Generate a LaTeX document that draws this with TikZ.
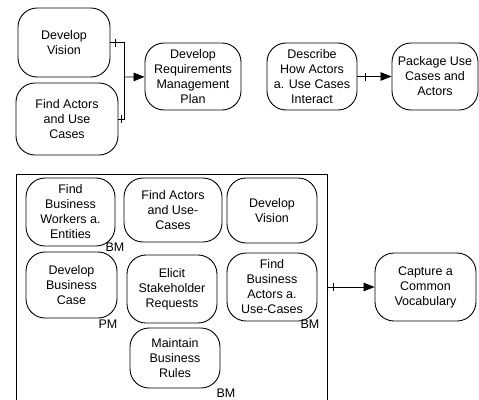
\documentclass[tikz,border=0pt]{standalone}
\usepackage{fontspec}
\setmainfont{Liberation Sans}
\usetikzlibrary{arrows.meta}
\begin{document}
\begin{tikzpicture}[x=1pt,y=-1pt,
  activity/.style={draw, line width=0.9pt, rounded corners=19pt, inner sep=0pt,
    align=center, font=\fontsize{12.5}{15}\selectfont},
  tag/.style={inner sep=0pt, font=\fontsize{12.5}{15}\selectfont},
  flow/.style={line width=0.8pt, -{Triangle[length=11pt,width=8.5pt]}},
  link/.style={line width=0.8pt},
  tick/.style={line width=0.8pt}]
\clip (0,0) rectangle (479,399);
\fill[white] (0,0) rectangle (479,399);

% upper workflow
\node[activity, minimum width=92pt, minimum height=69pt] (dv) at (64,42.5) {Develop\\Vision};
\node[activity, minimum width=102pt, minimum height=72pt] (fa) at (67,119) {Find Actors\\and Use\\Cases};
\node[activity, minimum width=96pt, minimum height=67pt] (drm) at (193,76.5) {Develop\\Requirements\\Management\\Plan};
\node[activity, minimum width=90pt, minimum height=67pt] (dh) at (312,76.5) {Describe\\How Actors\\a. Use Cases\\Interact};
\node[activity, minimum width=86pt, minimum height=67pt] (pu) at (435,76.5) {Package Use\\Cases and\\Actors};

\coordinate (j) at (124,77);
\draw[link] (dv) -- (dv -| j) -- (fa -| j) -- (fa);
\draw[flow] (j) -- (drm);
\draw[tick] ([xshift=5pt]dv.east) ++(0,-4) -- ++(0,8);
\draw[tick] ([xshift=-3pt]fa.east -| j) ++(0,-4) -- ++(0,8);
\draw[flow] (dh) -- (pu);
\draw[tick] ([xshift=8pt]dh.east) ++(0,-4) -- ++(0,8);

% lower group
\coordinate (gtl) at (16,174);
\coordinate (gbr) at (327,410);
\draw[line width=0.7pt] (gtl) rectangle (gbr);

\node[activity, minimum width=89pt, minimum height=68pt] (fbw) at (70.5,212) {Find\\Business\\Workers a.\\Entities};
\node[activity, minimum width=98pt, minimum height=64pt] (fau) at (173,210) {Find Actors\\and Use-\\Cases};
\node[activity, minimum width=90pt, minimum height=65pt] (dv2) at (272,210.5) {Develop\\Vision};
\node[activity, minimum width=91pt, minimum height=66pt] (dbc) at (71.5,285) {Develop\\Business\\Case};
\node[activity, minimum width=90pt, minimum height=68pt] (esr) at (172,289) {Elicit\\Stakeholder\\Requests};
\node[activity, minimum width=90pt, minimum height=68pt] (fba) at (272,287) {Find\\Business\\Actors a.\\Use-Cases};
\node[activity, minimum width=90pt, minimum height=60pt] (mbr) at (175,358) {Maintain\\Business\\Rules};

\node[tag] (t1) at (115,247) {BM};
\node[tag] (t2) at (108,324) {PM};
\node[tag] (t3) at (310,324) {BM};
\node[tag] (t4) at (226,393.5) {BM};

\node[activity, minimum width=101pt, minimum height=68pt] (ccv) at (425.5,287) {Capture a\\Common\\Vocabulary};

\coordinate (gout) at (327,287);
\draw[flow] (gout) -- (ccv);
\draw[tick] ([xshift=6pt]gout) ++(0,-4) -- ++(0,8);
\end{tikzpicture}
\end{document}
